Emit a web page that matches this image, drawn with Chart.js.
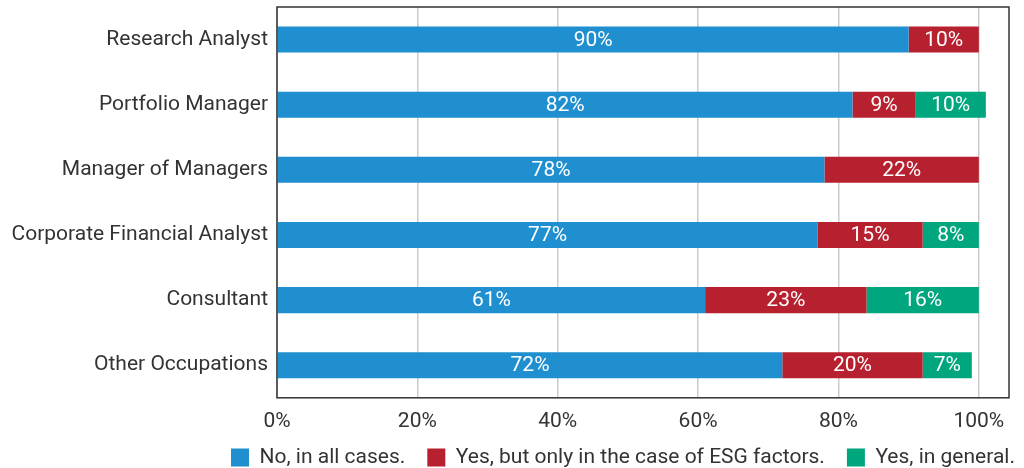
<!DOCTYPE html>
<html>
<head>
<meta charset="utf-8">
<script src="https://cdn.jsdelivr.net/npm/chart.js@4/dist/chart.umd.min.js"></script>
<style>
    html, body { margin: 0; padding: 0; background: #fff; }
    #wrap { width: 1024px; height: 468px; }
</style>
</head>
<body>
<div id="wrap"><canvas id="myChart" width="1024" height="468"></canvas></div>
<script>
const occupations = ['Research Analyst', 'Portfolio Manager', 'Manager of Managers',
    'Corporate Financial Analyst', 'Consultant', 'Other Occupations'];
const noAllCases = [90, 82, 78, 77, 61, 72];
const yesEsgOnly = [10, 9, 22, 15, 23, 20];
const yesGeneral = [0, 10, 0, 8, 16, 7];
const seriesNames = ['No, in all cases.', 'Yes, but only in the case of ESG factors.', 'Yes, in general.'];
const xTicks = [0, 20, 40, 60, 80, 100];

const FONT = 'Roboto, "DejaVu Sans", sans-serif';
const SIZE = 21;
const TEXT = '#333333';

// white % labels in the middle of every segment
const segmentLabels = {
    id: 'segmentLabels',
    afterDatasetsDraw(chart) {
        const ctx = chart.ctx;
        ctx.save();
        ctx.fillStyle = '#ffffff';
        ctx.font = SIZE + 'px ' + FONT;
        ctx.textAlign = 'center';
        ctx.textBaseline = 'middle';
        chart.data.datasets.forEach((ds, i) => {
            chart.getDatasetMeta(i).data.forEach((bar, j) => {
                const v = ds.data[j];
                if (!v) return;
                const p = bar.getCenterPoint();
                ctx.fillText(v + '%', p.x, p.y + 1);
            });
        });
        ctx.restore();
    }
};

// box round the plot area
const plotBox = {
    id: 'plotBox',
    afterDraw(chart) {
        const a = chart.chartArea;
        const ctx = chart.ctx;
        ctx.save();
        ctx.strokeStyle = '#333333';
        ctx.lineWidth = 1.5;
        ctx.strokeRect(a.left, a.top, a.right - a.left, a.bottom - a.top);
        ctx.restore();
    }
};

// legend takes less room than its padding wants, and sits a bit to the right
const LEG_SHRINK = 20;
const legendNudge = {
    id: 'legendNudge',
    beforeLayout(chart) {
        const lg = chart.legend;
        if (lg && !lg._nudged) {
            const fit = lg.fit;
            lg.fit = function () {
                fit.call(this);
                this.height -= LEG_SHRINK;
            };
            lg._nudged = true;
        }
    },
    afterLayout(chart) {
        const lg = chart.legend;
        lg.top -= LEG_SHRINK;
        lg.left += 28;
        lg.right += 28;
    }
};

const ctx = document.getElementById('myChart').getContext('2d');
const chart = new Chart(ctx, {
    type: 'bar',
    data: {
        labels: occupations,
        datasets: [
            { label: seriesNames[0], data: noAllCases, backgroundColor: '#1f8fcf' },
            { label: seriesNames[1], data: yesEsgOnly, backgroundColor: '#b7202e' },
            { label: seriesNames[2], data: yesGeneral, backgroundColor: '#00a67e' }
        ]
    },
    options: {
        indexAxis: 'y',
        responsive: false,
        animation: false,
        layout: { padding: { left: 0, right: 15, top: 7, bottom: -10 } },
        datasets: {
            bar: { barPercentage: 0.4, categoryPercentage: 1.0, borderWidth: 0 }
        },
        scales: {
            x: {
                stacked: true,
                min: 0,
                max: 104.3,
                afterBuildTicks: axis => {
                    axis.ticks = xTicks.map(v => ({ value: v }));
                },
                grid: { color: '#cccccc', lineWidth: 1.5, drawTicks: false },
                border: { display: false },
                ticks: {
                    padding: 11,
                    color: TEXT,
                    font: { family: FONT, size: SIZE },
                    callback: v => v + '%'
                }
            },
            y: {
                stacked: true,
                grid: { display: false, drawTicks: false },
                border: { display: false },
                afterFit: scale => {
                    scale.width = 277;
                    scale.paddingTop = 0;
                    scale.paddingBottom = 0;
                },
                ticks: {
                    padding: 9,
                    color: TEXT,
                    font: { family: FONT, size: SIZE }
                }
            }
        },
        plugins: {
            tooltip: { enabled: false },
            legend: {
                position: 'bottom',
                align: 'end',
                labels: {
                    color: TEXT,
                    font: { family: FONT, size: SIZE },
                    boxWidth: 18,
                    boxHeight: 18,
                    padding: 22
                }
            }
        }
    },
    plugins: [segmentLabels, plotBox, legendNudge]
});
</script>
</body>
</html>
